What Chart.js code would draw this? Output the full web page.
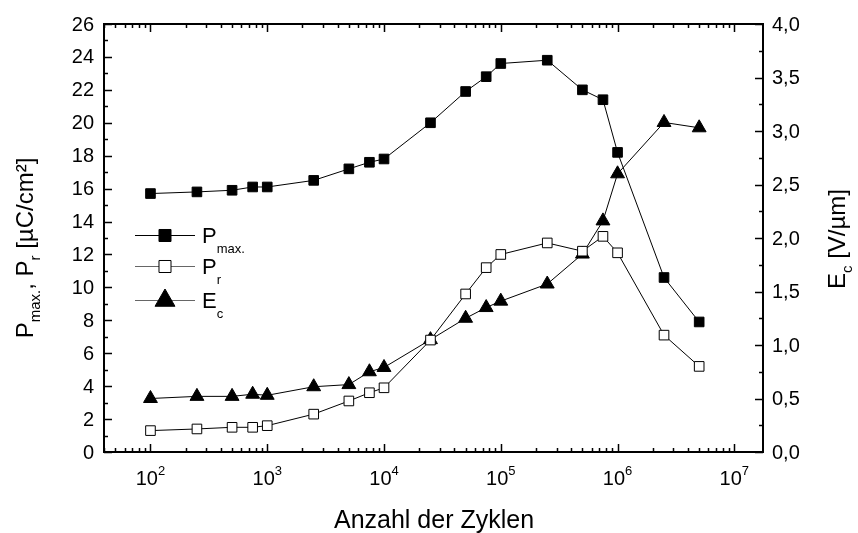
<!DOCTYPE html>
<html>
<head>
<meta charset="utf-8">
<script src="https://cdn.jsdelivr.net/npm/chart.js@4/dist/chart.umd.min.js"></script>
<style>
  html, body { margin: 0; padding: 0; background: #fff; }
</style>
</head>
<body>
<canvas id="chart" width="858" height="533"></canvas>
<script>
const cycles = [100, 250, 500, 750, 1000, 2500, 5000, 7500, 10000, 25000, 50000, 75000,
                100000, 250000, 500000, 750000, 1000000, 2500000, 5000000];
const pMax = [15.7, 15.8, 15.9, 16.1, 16.1, 16.5, 17.2, 17.6, 17.8, 20.0, 21.9, 22.8,
              23.6, 23.8, 22.0, 21.4, 18.2, 10.6, 7.9];
const pR = [1.3, 1.4, 1.5, 1.5, 1.6, 2.3, 3.1, 3.6, 3.9, 6.8, 9.6, 11.2,
            12.0, 12.7, 12.2, 13.1, 12.1, 7.1, 5.2];
const eC = [0.50, 0.52, 0.52, 0.54, 0.53, 0.61, 0.63, 0.75, 0.79, 1.05, 1.25, 1.35,
            1.41, 1.57, 1.85, 2.16, 2.60, 3.08, 3.03];

// Achsen
const xDecades = [2, 3, 4, 5, 6, 7];
const leftTicks = [0, 2, 4, 6, 8, 10, 12, 14, 16, 18, 20, 22, 24, 26];
const rightTicks = ['0,0', '0,5', '1,0', '1,5', '2,0', '2,5', '3,0', '3,5', '4,0'];

const FONT = '"Liberation Sans", Arial, sans-serif';

function toPoints(vals) {
    return cycles.map((c, i) => ({ x: c, y: vals[i] }));
}

// Text mit Tief-/Hochstellung
function richWidth(ctx, parts) {
    let w = 0;
    for (const p of parts) {
        ctx.font = p.size + 'px ' + FONT;
        w += ctx.measureText(p.t).width;
    }
    return w;
}
function drawRich(ctx, parts, x, y, align) {
    let cx = x;
    if (align === 'center') cx = x - richWidth(ctx, parts) / 2;
    ctx.textAlign = 'left';
    ctx.textBaseline = 'alphabetic';
    for (const p of parts) {
        ctx.font = p.size + 'px ' + FONT;
        ctx.fillText(p.t, cx, y + (p.dy || 0));
        cx += ctx.measureText(p.t).width;
    }
}

const axesPlugin = {
    id: 'axesPlugin',
    afterDraw(chart) {
        const { ctx, chartArea: a, scales } = chart;
        const x = scales.x, y = scales.y, y1 = scales.y1;
        ctx.save();
        ctx.strokeStyle = '#000';
        ctx.fillStyle = '#000';

        // Rahmen
        ctx.lineWidth = 2;
        ctx.strokeRect(a.left, a.top, a.right - a.left, a.bottom - a.top);

        ctx.lineWidth = 1.5;
        ctx.beginPath();
        // x: Haupt- und Nebenstriche (nach innen)
        for (let d = 1; d <= 7; d++) {
            for (let m = 1; m <= 9; m++) {
                const v = m * Math.pow(10, d);
                if (v < x.min || v > x.max) continue;
                const px = Math.round(x.getPixelForValue(v)) + 0.5;
                const len = m === 1 ? 8 : 4;
                ctx.moveTo(px, a.bottom); ctx.lineTo(px, a.bottom - len);
                ctx.moveTo(px, a.top); ctx.lineTo(px, a.top + len);
            }
        }
        // linke Achse
        for (let v = 0; v <= 26; v += 1) {
            const py = Math.round(y.getPixelForValue(v)) + 0.5;
            const len = v % 2 === 0 ? 8 : 4;
            ctx.moveTo(a.left, py); ctx.lineTo(a.left + len, py);
        }
        // rechte Achse
        for (let v = 0; v <= 4.0001; v += 0.25) {
            const py = Math.round(y1.getPixelForValue(v)) + 0.5;
            const len = Math.abs(v * 2 - Math.round(v * 2)) < 1e-6 ? 8 : 4;
            ctx.moveTo(a.right, py); ctx.lineTo(a.right - len, py);
        }
        ctx.stroke();

        // Beschriftungen
        ctx.font = '20px ' + FONT;
        ctx.textBaseline = 'middle';
        ctx.textAlign = 'right';
        leftTicks.forEach(v => {
            ctx.fillText(String(v), a.left - 10, y.getPixelForValue(v) + 1);
        });
        ctx.textAlign = 'left';
        rightTicks.forEach(t => {
            const v = parseFloat(t.replace(',', '.'));
            ctx.fillText(t, a.right + 9, y1.getPixelForValue(v) + 1);
        });
        xDecades.forEach(d => {
            const px = x.getPixelForValue(Math.pow(10, d));
            drawRich(ctx, [
                { t: '10', size: 20 },
                { t: String(d), size: 13, dy: -10 }
            ], px, a.bottom + 33, 'center');
        });

        // Achsentitel
        ctx.font = '25px ' + FONT;
        ctx.textAlign = 'center';
        ctx.textBaseline = 'alphabetic';
        ctx.fillText('Anzahl der Zyklen', 434, 528);

        ctx.save();
        ctx.translate(33, 248);
        ctx.rotate(-Math.PI / 2);
        drawRich(ctx, [
            { t: 'P', size: 24 },
            { t: 'max.', size: 15, dy: 7 },
            { t: ', P', size: 24 },
            { t: 'r', size: 15, dy: 7 },
            { t: ' [µC/cm²]', size: 24 }
        ], 0, 0, 'center');
        ctx.restore();

        ctx.save();
        ctx.translate(845, 239);
        ctx.rotate(-Math.PI / 2);
        drawRich(ctx, [
            { t: 'E', size: 24 },
            { t: 'c', size: 15, dy: 7 },
            { t: ' [V/µm]', size: 24 }
        ], 0, 0, 'center');
        ctx.restore();

        // Legende
        const rows = [
            { ds: chart.data.datasets[0], y: 235, line: '#000', r: 8.5, parts: [{ t: 'P', size: 22 }, { t: 'max.', size: 13, dy: 10 }] },
            { ds: chart.data.datasets[1], y: 266, line: '#666', r: 8.5, parts: [{ t: 'P', size: 22 }, { t: 'r', size: 13, dy: 10 }] },
            { ds: chart.data.datasets[2], y: 300, line: '#666', r: 11.5, parts: [{ t: 'E', size: 22 }, { t: 'c', size: 13, dy: 10 }] }
        ];
        rows.forEach(row => {
            ctx.strokeStyle = row.line;
            ctx.lineWidth = 1;
            ctx.beginPath();
            ctx.moveTo(135, row.y + 0.5); ctx.lineTo(195, row.y + 0.5);
            ctx.stroke();
            ctx.fillStyle = row.ds.pointBackgroundColor;
            ctx.strokeStyle = '#000';
            Chart.helpers.drawPoint(ctx, {
                pointStyle: row.ds.pointStyle,
                radius: row.r,
                borderWidth: 1,
                rotation: 0
            }, 165, row.y + 0.5);
            ctx.fillStyle = '#000';
            drawRich(ctx, row.parts, 202, row.y + 8, 'left');
        });

        ctx.restore();
    }
};

new Chart(document.getElementById('chart'), {
    type: 'line',
    data: {
        datasets: [
            {
                label: 'Pmax.',
                data: toPoints(pMax),
                yAxisID: 'y',
                borderColor: '#000',
                borderWidth: 1,
                pointStyle: 'rect',
                pointRadius: 6.8,
                pointBackgroundColor: '#000',
                pointBorderColor: '#000',
                pointBorderWidth: 1
            },
            {
                label: 'Pr',
                data: toPoints(pR),
                yAxisID: 'y',
                borderColor: '#000',
                borderWidth: 1,
                pointStyle: 'rect',
                pointRadius: 6.8,
                pointBackgroundColor: '#fff',
                pointBorderColor: '#000',
                pointBorderWidth: 1
            },
            {
                label: 'Ec',
                data: toPoints(eC),
                yAxisID: 'y1',
                borderColor: '#000',
                borderWidth: 1,
                pointStyle: 'triangle',
                pointRadius: 8,
                pointBackgroundColor: '#000',
                pointBorderColor: '#000',
                pointBorderWidth: 1
            }
        ]
    },
    options: {
        responsive: false,
        animation: false,
        devicePixelRatio: 1,
        layout: { padding: { left: 104, right: 95, top: 24, bottom: 81 } },
        elements: { line: { tension: 0 } },
        plugins: { legend: { display: false }, tooltip: { enabled: false } },
        scales: {
            x: { type: 'logarithmic', min: 40, max: 1.76e7, display: false },
            y: { type: 'linear', position: 'left', min: 0, max: 26, display: false },
            y1: { type: 'linear', position: 'right', min: 0, max: 4, display: false }
        }
    },
    plugins: [axesPlugin]
});
</script>
</body>
</html>
